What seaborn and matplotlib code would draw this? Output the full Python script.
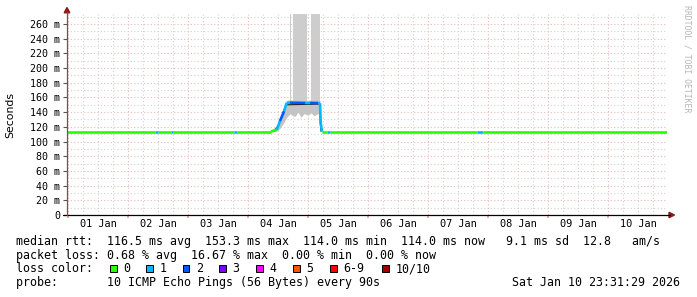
import matplotlib
matplotlib.use('Agg')
import matplotlib.pyplot as plt
import matplotlib.dates as mdates
from matplotlib.ticker import MultipleLocator, FuncFormatter
from matplotlib.patches import Rectangle, Polygon
from matplotlib.lines import Line2D
import seaborn as sns
import pandas as pd

sns.set_theme(style='white')
plt.rcParams['font.family'] = ['DejaVu Sans Mono', 'DejaVu Sans']

START = pd.Timestamp('2025-12-31 23:31:29')
END = pd.Timestamp('2026-01-10 23:31:29')

# ---- data (hours after START, milliseconds) ----
# median rtt vertices; loss = lost pings (of 10) for the segment starting at that vertex
rtt_hours = [0.0, 35.2, 36.4, 41.6, 42.4, 66.8, 68.0, 81.6, 83.2, 83.9, 85.2, 86.8,
             87.9, 89.2, 95.2, 97.2, 100.4, 101.2, 101.5, 102.0, 104.0, 105.2,
             164.0, 166.4, 240.0]
rtt_ms = [113.6, 113.6, 113.6, 113.6, 113.6, 113.6, 113.6, 113.6, 115.2, 116.0, 128.0, 141.0,
          152.8, 152.9, 152.5, 152.6, 152.4, 152.2, 124.8, 113.6, 113.6, 113.6,
          113.6, 113.6, 113.6]
rtt_loss = [0, 1, 0, 1, 0, 1, 0, 0, 0, 1, 2, 1,
            1, 2, 1, 2, 1, 1, 1, 0, 1, 0,
            1, 0, 0]

# dark edge drawn along the rise and the drop
edge_hours = [83.0, 84.4, 86.0, 87.6, 101.2, 101.3, 101.6]
edge_ms = [114.5, 121.0, 135.0, 150.0, 151.0, 125.0, 114.0]

# smoke (spread of the pings) around the Jan 4 event
smoke_hours = [81.6, 83.9, 85.2, 86.8, 87.9, 89.2, 90.0, 91.2, 92.4, 93.6, 94.8,
               96.4, 97.6, 98.8, 100.4, 101.2]
smoke_lo = [113.0, 114.0, 118.0, 126.0, 133.0, 138.0, 136.0, 134.0, 140.0, 133.0, 138.0,
            136.0, 139.0, 135.0, 138.0, 140.0]
smoke_hi = [115.0, 122.0, 132.0, 145.0, 156.0, 157.0, 156.5, 156.0, 156.5, 156.0, 156.5,
            156.0, 156.5, 156.0, 156.5, 156.0]

# extreme pings reaching the top of the graph
spike_start_h = [89.0, 90.3, 97.6]
spike_end_h = [89.5, 96.1, 101.2]
spike_base_ms = [150.0, 148.0, 149.0]
spike_top_ms = [300.0, 300.0, 300.0]

loss_labels = ['0', '1', '2', '3', '4', '5', '6-9', '10/10']
loss_colors = ['#26ff00', '#00b8ff', '#0059ff', '#7e00ff', '#ff00ff', '#ff5500', '#ff0000', '#a10000']

ylim_top = 273.6

stats_lines = [
    "median rtt:  116.5 ms avg  153.3 ms max  114.0 ms min  114.0 ms now   9.1 ms sd  12.8   am/s",
    "packet loss: 0.68 % avg  16.67 % max  0.00 % min  0.00 % now",
    "loss color:",
    "probe:       10 ICMP Echo Pings (56 Bytes) every 90s",
]
stamp = "Sat Jan 10 23:31:29 2026"
watermark = "RRDTOOL / TOBI OETIKER"

# ---- figure ----
W, H = 697, 297
fig = plt.figure(figsize=(W / 100, H / 100), dpi=100)
fig.patch.set_facecolor('white')
ax = fig.add_axes([67 / W, (H - 215) / H, 600 / W, 201 / H])
ax.set_facecolor('white')

def t(h):
    return START + pd.to_timedelta(h, unit='h')

# smoke
ax.fill_between([t(h) for h in smoke_hours], smoke_lo, smoke_hi,
                color='#c4c4c4', linewidth=0, zorder=2)
for s, e, b, tp in zip(spike_start_h, spike_end_h, spike_base_ms, spike_top_ms):
    ax.fill_between([t(s), t(e)], [b, b], [tp, tp], color='#cdcdcd', linewidth=0, zorder=1.9)

# median line segments coloured by loss
rows = []
for i in range(len(rtt_hours) - 1):
    lab = loss_labels[min(rtt_loss[i], 6) if rtt_loss[i] < 10 else 7]
    rows.append(dict(seg=i, time=t(rtt_hours[i]), rtt=rtt_ms[i], loss=lab))
    rows.append(dict(seg=i, time=t(rtt_hours[i + 1]), rtt=rtt_ms[i + 1], loss=lab))
df = pd.DataFrame(rows)
pal = dict(zip(loss_labels, loss_colors))
sns.lineplot(data=df, x='time', y='rtt', hue='loss', units='seg', estimator=None,
             palette=pal, legend=False, linewidth=1.9, ax=ax, zorder=4,
             solid_capstyle='butt')
edge_df = pd.DataFrame({'time': [t(h) for h in edge_hours], 'rtt': edge_ms})
sns.lineplot(data=edge_df, x='time', y='rtt', color='#202020', linewidth=0.8,
             ax=ax, zorder=3.5, estimator=None)

ax.set_xlim(START, END)
ax.set_ylim(0, ylim_top)

# grids and ticks
ax.xaxis.set_major_locator(mdates.DayLocator())
ax.xaxis.set_major_formatter(FuncFormatter(lambda v, p: ''))
ax.xaxis.set_minor_locator(mdates.HourLocator(byhour=[6, 12, 18]))
ax.xaxis.set_minor_formatter(FuncFormatter(
    lambda v, p: mdates.num2date(v).strftime('%d Jan') if mdates.num2date(v).hour == 12 else ''))
ax.yaxis.set_major_locator(MultipleLocator(20))
ax.yaxis.set_minor_locator(MultipleLocator(10))
ax.yaxis.set_major_formatter(FuncFormatter(lambda v, p: '0' if v == 0 else f'{int(round(v))} m'))

ax.grid(which='major', color='#ebb8b8', linestyle=(0, (1, 2)), linewidth=0.8)
ax.grid(which='minor', color='#d2d2d2', linestyle=(0, (1, 2)), linewidth=0.8)
ax.set_axisbelow(True)

ax.tick_params(axis='x', which='minor', length=0, pad=3, labelsize=7.4, colors='black')
ax.tick_params(axis='x', which='major', length=2, color='#e3a3a3', direction='out')
ax.tick_params(axis='y', which='major', length=3, width=0.8, color='#555555', pad=2,
               labelsize=7.2, labelcolor='black', direction='out')
ax.tick_params(axis='y', which='minor', length=0)
ax.tick_params(axis='both', bottom=True, left=True)

ax.set_xlabel('')
ax.set_ylabel('Seconds', family='DejaVu Sans', fontsize=7.8, color='black')
ax.yaxis.set_label_coords((15 - 67) / 600, 0.5)

for sp in ax.spines.values():
    sp.set_visible(False)

def fx(px):
    return px / W

def fy(py):
    return 1 - py / H

# axis lines and arrows (figure coordinates)
fig.add_artist(Line2D([fx(63), fx(670)], [fy(215), fy(215)], color='black', lw=0.9,
                      transform=fig.transFigure))
fig.add_artist(Line2D([fx(67), fx(67)], [fy(215), fy(12)], color='#6e5555', lw=0.9,
                      transform=fig.transFigure))
fig.add_artist(Polygon([[fx(669), fy(212.3)], [fx(674.5), fy(215)], [fx(669), fy(217.7)]],
                       closed=True, color='#8b1a1a', transform=fig.transFigure))
fig.add_artist(Polygon([[fx(64.2), fy(12.8)], [fx(67), fy(7.5)], [fx(69.8), fy(12.8)]],
                       closed=True, color='#8b1a1a', transform=fig.transFigure))

# stats text
text_y = [241.5, 255.2, 269.0, 282.8]
for s, y in zip(stats_lines, text_y):
    fig.text(fx(16), fy(y), s, fontsize=8.4, va='center', ha='left',
             family='DejaVu Sans Mono', color='black')
fig.text(fx(680), fy(text_y[3]), stamp, fontsize=8.4, va='center', ha='right',
         family='DejaVu Sans Mono', color='black')

sq_x = [110, 146, 182.5, 219.3, 256, 293, 330, 382]
for x0, lab, col in zip(sq_x, loss_labels, loss_colors):
    fig.add_artist(Rectangle((fx(x0), fy(272.2)), 6.6 / W, 7.2 / H, facecolor=col,
                             edgecolor='black', linewidth=0.7, transform=fig.transFigure))
    fig.text(fx(x0 + 13.3), fy(text_y[2]), lab, fontsize=8.4, va='center', ha='left',
             family='DejaVu Sans Mono', color='black')

fig.text(fx(687.5), fy(5), watermark, fontsize=5.9, rotation=270, va='top', ha='center',
         family='DejaVu Sans Mono', color='#b5b5b5')

fig.savefig('out.png', dpi=100, facecolor='white')
